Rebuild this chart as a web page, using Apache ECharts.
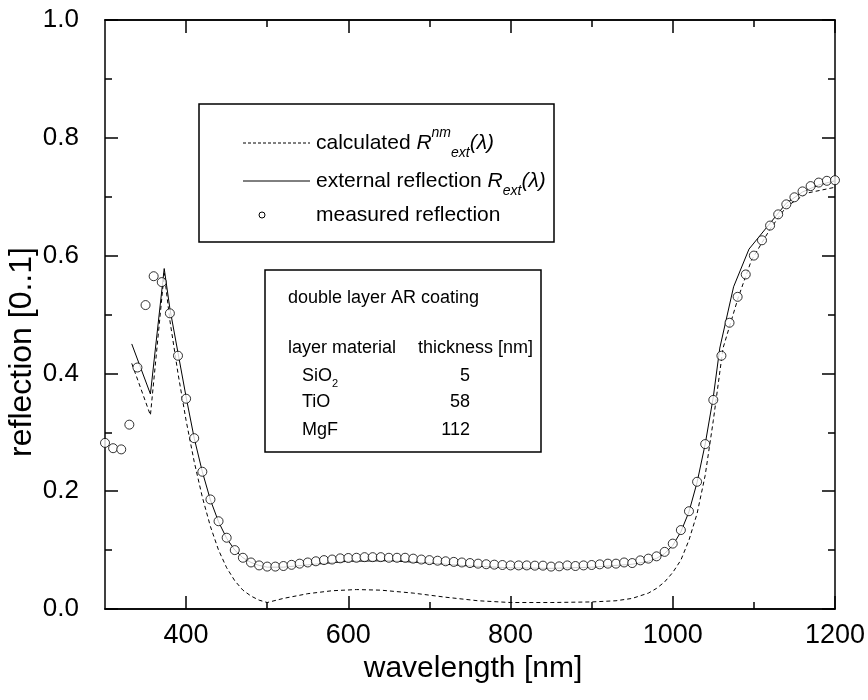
<!DOCTYPE html>
<html>
<head>
<meta charset="utf-8">
<script src="https://cdn.jsdelivr.net/npm/echarts@6/dist/echarts.min.js"></script>
<style>html,body{margin:0;padding:0;background:#fff;}#c{width:868px;height:700px;}</style>
</head>
<body>
<div id="c"></div>
<script>
// measured reflection (circles)
const measuredX = [300,310,320,330,340,350,360,370,380,390,400,410,420,430,440,450,460,470,480,490,500,510,520,530,540,550,560,570,580,590,600,610,620,630,640,650,660,670,680,690,700,710,720,730,740,750,760,770,780,790,800,810,820,830,840,850,860,870,880,890,900,910,920,930,940,950,960,970,980,990,1000,1010,1020,1030,1040,1050,1060,1070,1080,1090,1100,1110,1120,1130,1140,1150,1160,1170,1180,1190,1200];
const measuredY = [0.282,0.273,0.271,0.313,0.410,0.516,0.565,0.555,0.502,0.430,0.357,0.290,0.233,0.186,0.149,0.121,0.100,0.087,0.079,0.074,0.072,0.072,0.073,0.075,0.077,0.079,0.081,0.083,0.084,0.086,0.0866,0.087,0.088,0.088,0.088,0.087,0.087,0.087,0.0855,0.084,0.083,0.082,0.081,0.080,0.079,0.078,0.077,0.076,0.0753,0.0747,0.074,0.074,0.074,0.0736,0.0736,0.072,0.0724,0.074,0.073,0.074,0.0747,0.0758,0.077,0.077,0.079,0.078,0.0826,0.0855,0.0894,0.097,0.111,0.134,0.166,0.216,0.280,0.355,0.430,0.486,0.530,0.568,0.600,0.626,0.651,0.670,0.687,0.699,0.709,0.718,0.724,0.727,0.728];
// external reflection R_ext (solid)
const extX = [333,356,373,380,390,400,410,420,430,440,450,460,470,480,490,500,520,550,600,650,700,750,800,850,900,950,970,980,990,1000,1010,1020,1030,1040,1050,1058,1075,1094,1120,1140,1160,1180,1200];
const extY = [0.45,0.365,0.578,0.51,0.435,0.36,0.29,0.233,0.185,0.148,0.12,0.1,0.087,0.079,0.074,0.071,0.071,0.075,0.081,0.082,0.078,0.073,0.07,0.069,0.071,0.076,0.081,0.086,0.094,0.108,0.131,0.165,0.215,0.28,0.36,0.443,0.547,0.611,0.655,0.689,0.708,0.72,0.727];
// calculated R^nm_ext (dashed)
const calcX = [333,356,373,380,390,400,410,420,430,440,450,460,470,480,490,500,520,550,580,610,640,680,720,760,800,850,900,930,950,970,980,990,1000,1010,1020,1030,1040,1050,1062,1081,1097,1120,1140,1165,1200];
const calcY = [0.417,0.329,0.57,0.49,0.40,0.32,0.25,0.19,0.14,0.10,0.07,0.048,0.032,0.022,0.015,0.011,0.018,0.026,0.031,0.033,0.032,0.027,0.02,0.014,0.011,0.011,0.012,0.014,0.018,0.027,0.035,0.046,0.062,0.083,0.117,0.162,0.227,0.32,0.443,0.53,0.592,0.645,0.683,0.706,0.716];
// ticks
const xMajorTicks = [400,600,800,1000,1200];
const xMinorTicks = [500,700,900,1100];
const xTitle = 'wavelength [nm]';
const yTitle = 'reflection [0..1]';
// coating table
const layerNames = ['SiO','TiO','MgF'];
const layerSubs = ['2','',''];
const layerThickness = ['5','58','112'];

const FONT = "'Liberation Sans', Arial, sans-serif";
const zip = (a, b) => a.map((v, i) => [v, b[i]]);

const chart = echarts.init(document.getElementById('c'), null, {renderer: 'canvas'});

function xAxisDef(pos, ticks, len, labels) {
  return {
    type: 'value', position: pos, min: 300, max: 1200,
    axisLine: {show: true, onZero: false, lineStyle: {color: '#000', width: 1.5}},
    axisTick: {show: true, inside: true, length: len, customValues: ticks, lineStyle: {color: '#000', width: 1.5}},
    axisLabel: labels ? {show: true, customValues: ticks, fontSize: 27, color: '#000', fontFamily: FONT, margin: 13, formatter: v => String(v)} : {show: false},
    splitLine: {show: false}
  };
}
function yAxisDef(pos, labels) {
  return {
    type: 'value', position: pos, min: 0, max: 1, interval: 0.2,
    axisLine: {show: true, onZero: false, lineStyle: {color: '#000', width: 1.5}},
    axisTick: {show: true, inside: true, length: 13, lineStyle: {color: '#000', width: 1.5}},
    minorTick: {show: true, splitNumber: 2, length: 7, lineStyle: {color: '#000', width: 1.5}},
    axisLabel: labels ? {show: true, fontSize: 26, color: '#000', fontFamily: FONT, margin: 26, formatter: v => v.toFixed(1)} : {show: false},
    splitLine: {show: false}
  };
}

const legendRich = {
  n: {fontSize: 21, fontFamily: FONT, color: '#000', lineHeight: 34},
  i: {fontSize: 21, fontFamily: FONT, fontStyle: 'italic', color: '#000', lineHeight: 34},
  sup: {fontSize: 14, fontFamily: FONT, fontStyle: 'italic', color: '#000', verticalAlign: 'top', lineHeight: 16},
  sub: {fontSize: 14, fontFamily: FONT, fontStyle: 'italic', color: '#000', verticalAlign: 'bottom', lineHeight: 16}
};
const tableRich = {
  n: {fontSize: 18, fontFamily: FONT, color: '#000', lineHeight: 26},
  sub: {fontSize: 11, fontFamily: FONT, color: '#000', verticalAlign: 'bottom', lineHeight: 12}
};

const graphics = [
  {type: 'text', x: 473, y: 669, style: {text: xTitle, fontSize: 30, fontFamily: FONT, fill: '#000', align: 'center', verticalAlign: 'middle'}, z: 10},
  {type: 'text', x: 22, y: 352, rotation: Math.PI / 2, style: {text: yTitle, fontSize: 32, fontFamily: FONT, fill: '#000', align: 'center', verticalAlign: 'middle'}, z: 10},
  // legend box
  {type: 'rect', shape: {x: 199, y: 104, width: 355, height: 138}, style: {fill: '#fff', stroke: '#000', lineWidth: 1.5}, z: 20},
  {type: 'line', shape: {x1: 243, y1: 143, x2: 310, y2: 143}, style: {stroke: '#000', lineWidth: 1, lineDash: [3, 2]}, z: 21},
  {type: 'line', shape: {x1: 243, y1: 181, x2: 310, y2: 181}, style: {stroke: '#000', lineWidth: 1}, z: 21},
  {type: 'circle', shape: {cx: 262, cy: 215, r: 3}, style: {fill: '#fff', stroke: '#000', lineWidth: 1}, z: 21},
  {type: 'text', x: 316, y: 143, style: {text: '{n|calculated }{i|R}{sup|nm}{sub|ext}{i|(λ)}', rich: legendRich, verticalAlign: 'middle'}, z: 21},
  {type: 'text', x: 316, y: 181, style: {text: '{n|external reflection }{i|R}{sub|ext}{i|(λ)}', rich: legendRich, verticalAlign: 'middle'}, z: 21},
  {type: 'text', x: 316, y: 215, style: {text: '{n|measured reflection}', rich: legendRich, verticalAlign: 'middle'}, z: 21},
  // coating table box
  {type: 'rect', shape: {x: 265, y: 270, width: 276, height: 182}, style: {fill: '#fff', stroke: '#000', lineWidth: 1.5}, z: 20},
  {type: 'text', x: 288, y: 298, style: {text: '{n|double layer AR coating}', rich: tableRich, verticalAlign: 'middle'}, z: 21},
  {type: 'text', x: 288, y: 348, style: {text: '{n|layer material}', rich: tableRich, verticalAlign: 'middle'}, z: 21},
  {type: 'text', x: 418, y: 348, style: {text: '{n|thickness [nm]}', rich: tableRich, verticalAlign: 'middle'}, z: 21}
];
const rowY = [376, 402, 430];
layerNames.forEach((nm, k) => {
  const txt = '{n|' + nm + '}' + (layerSubs[k] ? '{sub|' + layerSubs[k] + '}' : '');
  graphics.push({type: 'text', x: 302, y: rowY[k], style: {text: txt, rich: tableRich, verticalAlign: 'middle'}, z: 21});
  graphics.push({type: 'text', x: 470, y: rowY[k], style: {text: '{n|' + layerThickness[k] + '}', rich: tableRich, align: 'right', verticalAlign: 'middle'}, z: 21});
});

chart.setOption({
  animation: false,
  backgroundColor: '#fff',
  grid: {left: 105, right: 33, top: 20, bottom: 91, containLabel: false},
  xAxis: [
    xAxisDef('bottom', xMajorTicks, 13, true),
    xAxisDef('bottom', xMinorTicks, 7, false),
    xAxisDef('top', xMajorTicks, 13, false),
    xAxisDef('top', xMinorTicks, 7, false)
  ],
  yAxis: [yAxisDef('left', true), yAxisDef('right', false)],
  series: [
    {type: 'line', name: 'calc', data: zip(calcX, calcY), xAxisIndex: 0, yAxisIndex: 0, showSymbol: false, symbol: 'none',
     lineStyle: {color: '#000', width: 1, type: [4, 3]}, z: 2},
    {type: 'line', name: 'ext', data: zip(extX, extY), xAxisIndex: 0, yAxisIndex: 0, showSymbol: false, symbol: 'none',
     lineStyle: {color: '#000', width: 1}, z: 3},
    {type: 'scatter', name: 'measured', data: zip(measuredX, measuredY), xAxisIndex: 0, yAxisIndex: 0, symbol: 'circle', symbolSize: 9,
     itemStyle: {color: '#fff', borderColor: '#000', borderWidth: 1}, clip: false, z: 4}
  ],
  graphic: graphics
});
</script>
</body>
</html>
